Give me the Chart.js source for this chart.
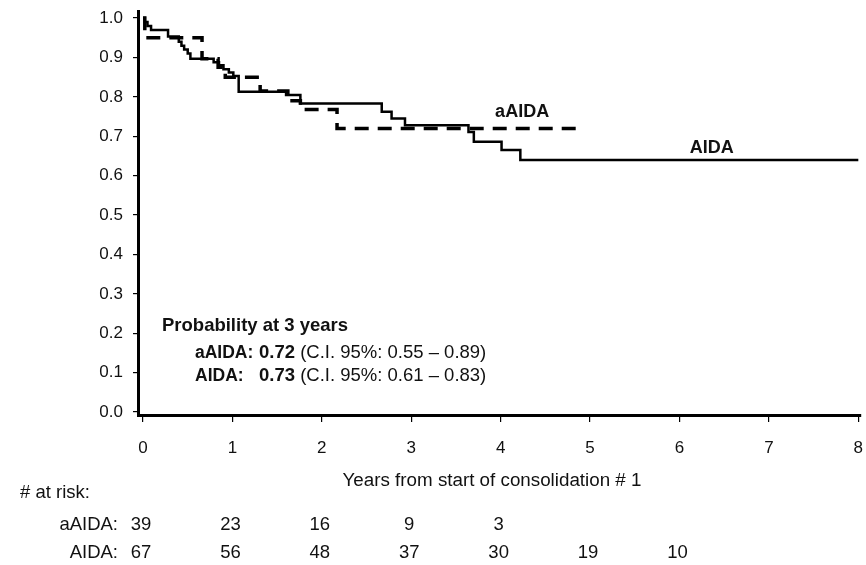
<!DOCTYPE html>
<html>
<head>
<meta charset="utf-8">
<script src="https://cdn.jsdelivr.net/npm/chart.js@4.4.1/dist/chart.umd.min.js"></script>
<style>
  html, body { margin: 0; padding: 0; background: #fff; }
  #km { display: block; }
</style>
</head>
<body>
<canvas id="km" width="866" height="565"></canvas>
<script>
// Kaplan-Meier steps: [years, survival]
const aidaTimes = [0, 0.02, 0.05, 0.09, 0.28, 0.40, 0.43, 0.46, 0.50, 0.53, 0.79, 0.85, 0.90, 0.96, 1.01, 1.07, 1.60, 1.76, 2.67, 2.78, 2.93, 3.64, 3.70, 4.01, 4.22, 8.0];
const aidaSurv  = [1.0, 0.99, 0.98, 0.97, 0.953, 0.94, 0.93, 0.92, 0.91, 0.897, 0.888, 0.88, 0.87, 0.862, 0.853, 0.813, 0.805, 0.783, 0.762, 0.745, 0.728, 0.711, 0.686, 0.665, 0.64, 0.64];

const aaidaTimes = [0, 0.02, 0.66, 0.84, 0.92, 1.31, 1.62, 1.76, 2.17, 4.86];
const aaidaSurv  = [1.0, 0.95, 0.897, 0.875, 0.85, 0.815, 0.79, 0.768, 0.72, 0.72];

const xTicks = [0, 1, 2, 3, 4, 5, 6, 7, 8];
const yTicks = [0, 0.1, 0.2, 0.3, 0.4, 0.5, 0.6, 0.7, 0.8, 0.9, 1.0];

// numbers at risk
const riskTimes = [0, 1, 2, 3, 4, 5, 6];
const riskAAIDA = [39, 23, 16, 9, 3];
const riskAIDA  = [67, 56, 48, 37, 30, 19, 10];

const probGroups = ['aAIDA:', 'AIDA:'];
const probValues = ['0.72', '0.73'];
const probCI     = ['(C.I. 95%: 0.55 \u2013 0.89)', '(C.I. 95%: 0.61 \u2013 0.83)'];

const FONT = '"Liberation Sans", Arial, Helvetica, sans-serif';
const INK = '#111';

const toPoints = (ts, ss) => ts.map((t, i) => ({ x: t, y: ss[i] }));

// everything outside the axes (labels, risk table) is drawn here
const extras = {
    id: 'extras',
    afterDraw(chart) {
        const ctx = chart.ctx;
        const xs = chart.scales.x, ys = chart.scales.y;
        ctx.save();
        ctx.fillStyle = INK;
        ctx.textBaseline = 'middle';

        // curve labels
        ctx.font = 'bold 18px ' + FONT;
        ctx.textAlign = 'center';
        ctx.fillText('aAIDA', xs.getPixelForValue(4.24), ys.getPixelForValue(0.761));
        ctx.fillText('AIDA', xs.getPixelForValue(6.36), ys.getPixelForValue(0.670));

        // probability box
        ctx.textAlign = 'left';
        ctx.font = 'bold 18.5px ' + FONT;
        ctx.fillText('Probability at 3 years', 162, 326);
        probGroups.forEach((g, i) => {
            const y = 353 + i * 23;
            ctx.font = 'bold 17.5px ' + FONT;
            ctx.fillText(g, 195, y);
            ctx.font = 'bold 18.5px ' + FONT;
            ctx.fillText(probValues[i], 259, y);
            const w = ctx.measureText(probValues[i] + ' ').width;
            ctx.font = '18.5px ' + FONT;
            ctx.fillText(probCI[i], 259 + w, y);
        });

        // x axis title
        ctx.font = '18.8px ' + FONT;
        ctx.textAlign = 'center';
        ctx.fillText('Years from start of consolidation # 1', 492, 481);

        // risk table
        ctx.font = '18.5px ' + FONT;
        ctx.textAlign = 'left';
        ctx.fillText('# at risk:', 20, 493);
        ctx.textAlign = 'right';
        ctx.fillText('aAIDA:', 118, 525);
        ctx.fillText('AIDA:', 118, 553);
        ctx.textAlign = 'center';
        riskAAIDA.forEach((n, i) => ctx.fillText(String(n), xs.getPixelForValue(riskTimes[i]) - 2, 525));
        riskAIDA.forEach((n, i) => ctx.fillText(String(n), xs.getPixelForValue(riskTimes[i]) - 2, 553));
        ctx.restore();
    }
};

new Chart(document.getElementById('km').getContext('2d'), {
    type: 'line',
    data: {
        datasets: [
            {
                label: 'AIDA',
                data: toPoints(aidaTimes, aidaSurv),
                borderColor: '#000',
                borderWidth: 2.5,
                pointRadius: 0,
                stepped: true,
                fill: false,
            },
            {
                label: 'aAIDA',
                data: toPoints(aaidaTimes, aaidaSurv),
                borderColor: '#000',
                borderWidth: 3.5,
                borderDash: [14, 9],
                borderCapStyle: 'butt',
                pointRadius: 0,
                stepped: true,
                fill: false,
            },
        ]
    },
    options: {
        responsive: false,
        animation: false,
        layout: { padding: { top: 11, right: 5, left: 0, bottom: 0 } },
        plugins: { legend: { display: false }, tooltip: { enabled: false } },
        scales: {
            x: {
                type: 'linear',
                min: -0.056,
                max: 8.03,
                afterBuildTicks: s => { s.ticks = xTicks.map(v => ({ value: v })); },
                afterFit: s => { s.height = 150; s.paddingLeft = 0; s.paddingRight = 0; },
                border: { color: '#000', width: 3 },
                grid: { drawOnChartArea: false, drawTicks: true, tickLength: 7, color: '#000', lineWidth: 1.2 },
                ticks: { color: INK, font: { family: FONT, size: 17 }, padding: 16, maxRotation: 0, autoSkip: false,
                         callback: v => String(v) }
            },
            y: {
                min: -0.0076,
                max: 1.018,
                afterBuildTicks: s => { s.ticks = yTicks.map(v => ({ value: v })); },
                afterFit: s => { s.width = 138; s.paddingTop = 0; s.paddingBottom = 0; },
                border: { color: '#000', width: 3 },
                grid: { drawOnChartArea: false, drawTicks: true, tickLength: 5, color: '#000', lineWidth: 1.2 },
                ticks: { color: INK, font: { family: FONT, size: 17 }, padding: 10, autoSkip: false,
                         callback: v => Number(v).toFixed(1) }
            }
        }
    },
    plugins: [extras]
});
</script>
</body>
</html>
